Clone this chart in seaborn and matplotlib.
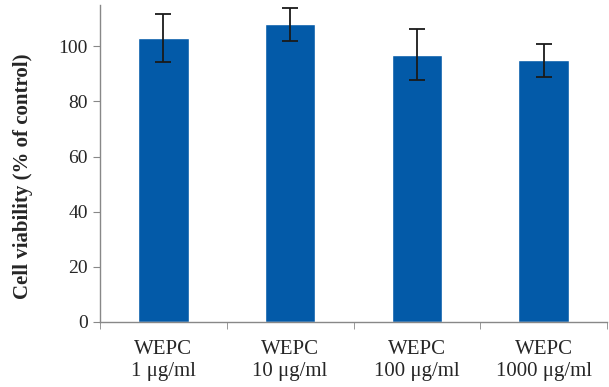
import numpy as np
import pandas as pd
import matplotlib
matplotlib.use("Agg")
import matplotlib.pyplot as plt
import seaborn as sns

labels = ["WEPC\n1 \u03bcg/ml", "WEPC\n10 \u03bcg/ml", "WEPC\n100 \u03bcg/ml", "WEPC\n1000 \u03bcg/ml"]
viability = [103, 108, 97, 95]
sd = [8.7, 6.0, 9.3, 6.0]

sns.set_style("white")
plt.rcParams['font.family'] = ['Liberation Serif', 'DejaVu Serif']

df = pd.DataFrame({"group": labels, "viability": viability})

fig = plt.figure(figsize=(6.09, 3.87), dpi=100)
ax = fig.add_axes([0.164, 0.168, 0.833, 0.819])

sns.barplot(data=df, x="group", y="viability", color="#035aa8", saturation=1,
            width=0.4, ax=ax)
ax.errorbar(np.arange(len(labels)), viability, yerr=sd, fmt="none",
            ecolor="#1a1a1a", elinewidth=1.3, capsize=6, capthick=1.3)

ax.set_ylim(0, 115)
ax.set_xlim(-0.5, 3.5)
ax.set_yticks([0, 20, 40, 60, 80, 100])
ax.set_xticks(np.arange(-0.5, 4, 1.0), minor=True)
ax.tick_params(axis="x", which="major", length=0, pad=13, labelsize=15)
ax.tick_params(axis="x", which="minor", length=5, color="#888888", direction="out", bottom=True)
ax.tick_params(axis="y", length=5, color="#888888", direction="out", left=True, labelsize=14)
ax.set_xlabel("")
ax.set_ylabel("Cell viability (% of control)", fontsize=15, fontweight="bold")
ax.yaxis.set_label_coords(-0.131, 0.46)

for side in ["top", "right"]:
    ax.spines[side].set_visible(False)
for side in ["left", "bottom"]:
    ax.spines[side].set_color("#888888")
    ax.spines[side].set_linewidth(1.0)

fig.savefig("out.png", dpi=100)
